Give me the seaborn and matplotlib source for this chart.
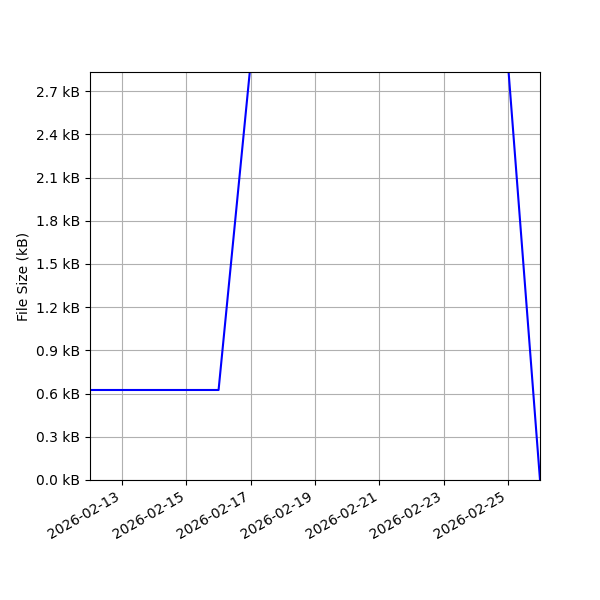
import matplotlib
matplotlib.use("Agg")
import matplotlib.pyplot as plt
import matplotlib.dates as mdates
from matplotlib.ticker import FuncFormatter, MultipleLocator
import seaborn as sns
import pandas as pd

dates = ["2026-02-12", "2026-02-13", "2026-02-14", "2026-02-15", "2026-02-16",
         "2026-02-17", "2026-02-18", "2026-02-19", "2026-02-20", "2026-02-21",
         "2026-02-22", "2026-02-23", "2026-02-24", "2026-02-25", "2026-02-26"]
sizes_bytes = [625, 625, 625, 625, 625,
               2900, 3000, 3000, 3000, 3000,
               3000, 3000, 3000, 2900, 0]
tick_dates = ["2026-02-13", "2026-02-15", "2026-02-17", "2026-02-19",
              "2026-02-21", "2026-02-23", "2026-02-25"]

df = pd.DataFrame({"date": pd.to_datetime(dates), "size": sizes_bytes})

fig, ax = plt.subplots(figsize=(6, 6), dpi=100)
sns.lineplot(data=df, x="date", y="size", color="blue", linewidth=1.5, ax=ax)

ax.set_xlim(pd.Timestamp("2026-02-12"), pd.Timestamp("2026-02-26"))
ax.set_ylim(0, 2833)
ax.yaxis.set_major_locator(MultipleLocator(300))
ax.yaxis.set_major_formatter(FuncFormatter(lambda v, p: f"{v/1000:.1f} kB"))
ax.set_xticks(pd.to_datetime(tick_dates))
ax.xaxis.set_major_formatter(mdates.DateFormatter("%Y-%m-%d"))
ax.grid(True, color="#b0b0b0", linewidth=0.8)
ax.set_xlabel("")
ax.set_ylabel("File Size (kB)")
for lbl in ax.get_xticklabels():
    lbl.set_rotation(30)
    lbl.set_ha("right")

fig.subplots_adjust(left=0.15, right=0.9, top=0.88, bottom=0.2)
fig.savefig("out.png", dpi=100)
